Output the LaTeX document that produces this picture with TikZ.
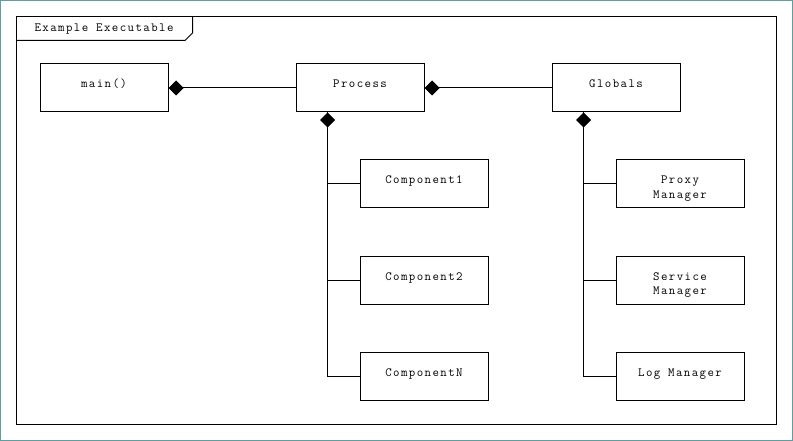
\documentclass[tikz,border=0pt]{standalone}
\usepackage{fontspec}
\setmonofont[LetterSpace=11.5]{Latin Modern Mono}
\usetikzlibrary{arrows.meta,calc}
\definecolor{edgeteal}{HTML}{5F9EA0}
\newcommand\twoln[2]{\parbox[t]{120pt}{\centering\baselineskip=14pt #1\\#2\par}}
\begin{document}
\begin{tikzpicture}[x=1pt,y=-1pt,
  every node/.style={font=\ttfamily\fontsize{12.5}{14}\selectfont},
  box/.style={draw, line width=1pt, minimum width=128pt, inner sep=0pt,
    text height=24pt, text depth=24pt},
  link/.style={line width=1pt},
  comp/.style={line width=1pt, {Diamond[length=15pt,width=15pt]}-}]
\useasboundingbox (0,0) rectangle (793,441);
% outer border
\draw[edgeteal, line width=1pt] (0.5,0.5) rectangle (792.5,440.5);
% frame
\draw[line width=1pt] (16.5,16.5) rectangle (776.5,424.5);
\draw[line width=1pt] (16.5,40.5) -- (185,40.5) -- (192.5,33) -- (192.5,16.5);
\node[anchor=base, inner sep=0pt] (title) at (104,31.5) {Example Executable};
% boxes
\node[box] (main) at (104,88) {main()};
\node[box] (proc) at (360,88) {Process};
\node[box] (glob) at (616,88) {Globals};
\node[box] (c1) at (424,184) {Component1};
\node[box] (c2) at (424,280) {Component2};
\node[box] (c3) at (424,376) {ComponentN};
\node[box] (pm) at (680,184) {\twoln{Proxy}{Manager}};
\node[box] (sm) at (680,280) {\twoln{Service}{Manager}};
\node[box] (lm) at (680,376) {Log Manager};
% connectors
\draw[comp] (main.east) -- (proc.west);
\draw[comp] (proc.east) -- (glob.west);
\coordinate (pb) at ($(proc.south west)+(32,0)$);
\coordinate (gb) at ($(glob.south west)+(32,0)$);
\draw[comp] (pb) |- (c1.west);
\draw[link] (pb) |- (c2.west);
\draw[link] (pb) |- (c3.west);
\draw[comp] (gb) |- (pm.west);
\draw[link] (gb) |- (sm.west);
\draw[link] (gb) |- (lm.west);
\end{tikzpicture}
\end{document}
